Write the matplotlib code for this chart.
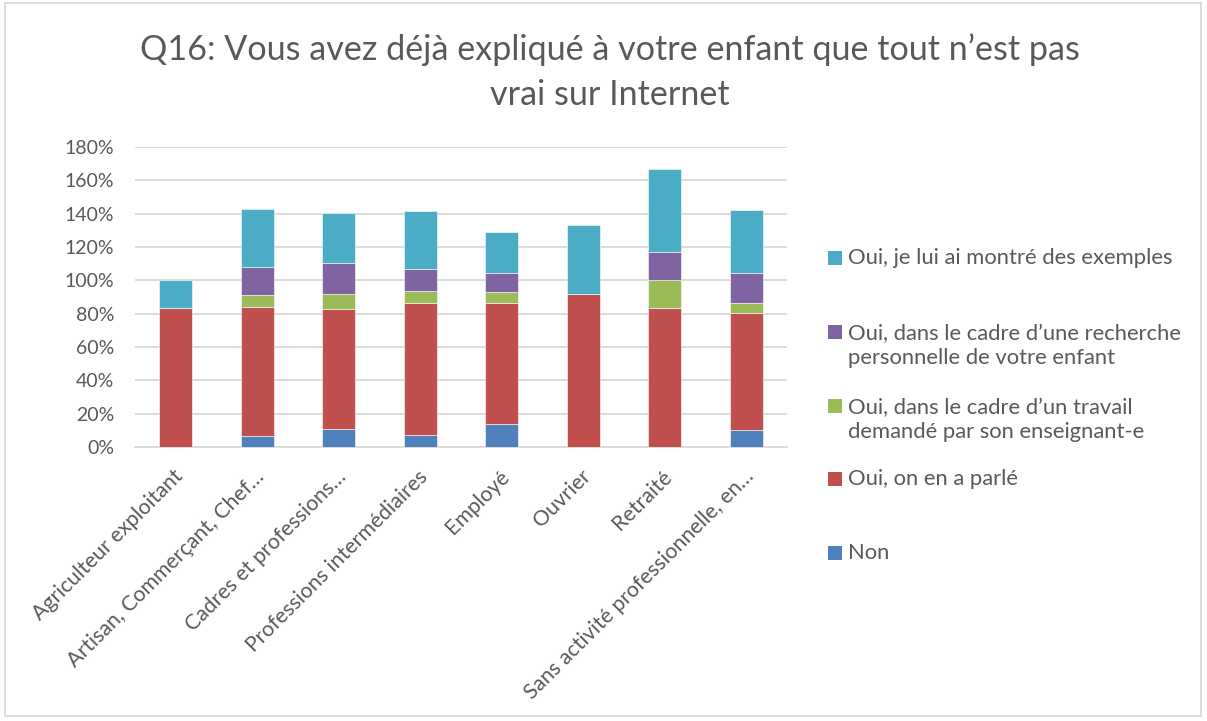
import matplotlib
matplotlib.use("Agg")
import matplotlib.pyplot as plt
from matplotlib.patches import Rectangle
from matplotlib.transforms import ScaledTranslation
import numpy as np

plt.rcParams['font.family'] = ['Lato', 'DejaVu Sans']

categories = ["Agriculteur exploitant", "Artisan, Commerçant, Chef…", "Cadres et professions…",
              "Professions intermédiaires", "Employé", "Ouvrier", "Retraité",
              "Sans activité professionnelle, en…"]

# values in %, stacked bottom to top
non = [0, 6.4, 11.0, 7.4, 14.0, 0, 0, 10.4]
parle = [83.3, 77.8, 72.0, 79.0, 72.6, 91.7, 83.3, 69.8]
travail = [0, 7.0, 8.8, 7.2, 6.4, 0, 16.7, 6.2]
recherche = [0, 17.0, 18.4, 13.4, 11.6, 0, 16.7, 18.2]
exemples = [16.7, 34.7, 30.3, 34.7, 24.1, 41.7, 50.0, 37.7]

series = [non, parle, travail, recherche, exemples]
labels = ["Non", "Oui, on en a parlé",
          "Oui, dans le cadre d\u2019un travail\ndemandé par son enseignant-e",
          "Oui, dans le cadre d\u2019une recherche\npersonnelle de votre enfant",
          "Oui, je lui ai montré des exemples"]
colors = ["#4F81BD", "#C0504D", "#9BBB59", "#8064A2", "#4BACC6"]

W, H = 1207, 721
txt = "#595959"
grid = "#d9d9d9"

fig = plt.figure(figsize=(W / 100, H / 100), dpi=100)
ax = fig.add_axes([135 / W, 1 - 447 / H, 652 / W, 300 / H])

x = np.arange(len(categories))
bottom = np.zeros(len(categories))
for vals, col in zip(series, colors):
    v = np.array(vals) / 100
    ax.bar(x, v, 0.4, bottom=bottom, color=col, edgecolor="white", linewidth=0.4, zorder=3)
    bottom += v

ax.set_xlim(-0.5, len(categories) - 0.5)
ax.set_ylim(0, 1.8)
ax.set_yticks(np.arange(0, 1.81, 0.2))
ax.set_yticklabels([f"{int(round(t * 100))}%" for t in np.arange(0, 1.81, 0.2)])
ax.yaxis.grid(True, color=grid, linewidth=1.3, zorder=0)
for s in ["top", "right", "left"]:
    ax.spines[s].set_visible(False)
ax.spines["bottom"].set_color(grid)
ax.spines["bottom"].set_linewidth(1.3)
ax.tick_params(axis="y", length=0, pad=15, labelsize=14, labelcolor=txt)
ax.tick_params(axis="x", length=0, pad=19, labelsize=15.3, labelcolor=txt)
ax.set_xticks(x)
ax.set_xticklabels(categories, rotation=45, ha="right", va="center", rotation_mode="anchor")
for lab in ax.get_xticklabels():
    lab.set_transform(lab.get_transform() + ScaledTranslation(4 / 100, 0, fig.dpi_scale_trans))

fig.text(610 / W, 1 - 72 / H, "Q16: Vous avez déjà expliqué à votre enfant que tout n\u2019est pas\nvrai sur Internet",
         ha="center", va="center", fontsize=24.6, color=txt, linespacing=1.5)

# legend (drawn top to bottom as in the original)
leg_y = [258, 346, 420, 479, 553]
for i, k in enumerate([4, 3, 2, 1, 0]):
    yc = leg_y[i]
    nlines = labels[k].count("\n") + 1
    ytop = yc - (nlines - 1) * 14
    fig.patches.append(Rectangle((828 / W, 1 - (ytop + 7) / H), 14 / W, 14 / H,
                                 transform=fig.transFigure, facecolor=colors[k], edgecolor="none"))
    fig.text(848 / W, 1 - yc / H, labels[k], ha="left", va="center", fontsize=15.8,
             color=txt, linespacing=1.25)

fig.patches.append(Rectangle((5 / W, 1 - 716 / H), 1196 / W, 713 / H, transform=fig.transFigure,
                             facecolor="none", edgecolor=grid, linewidth=1.3))

fig.savefig("out.png", dpi=100)
